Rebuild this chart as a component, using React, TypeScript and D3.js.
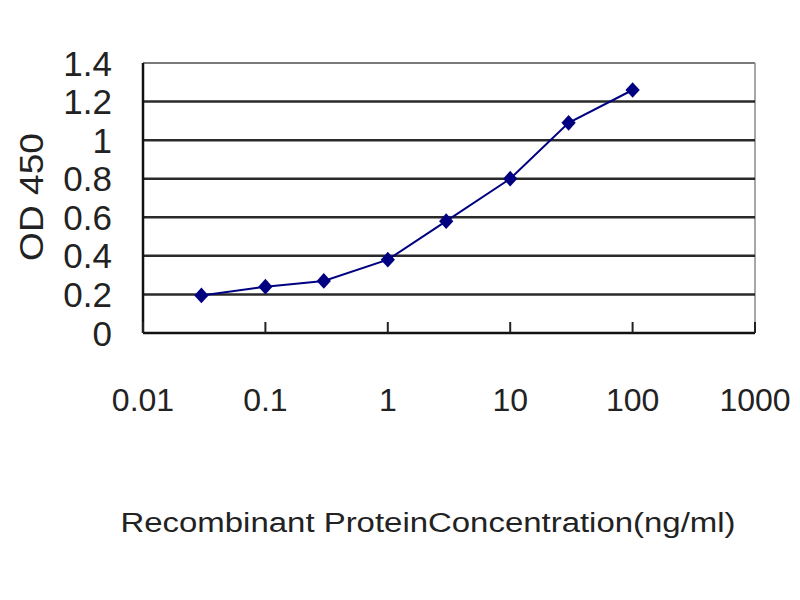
import React from 'react'
import * as d3 from 'd3'

const concentrations = [0.03, 0.1, 0.3, 1, 3, 10, 30, 100]
const odValues = [0.195, 0.24, 0.27, 0.38, 0.58, 0.8, 1.09, 1.26]
const xTicks = [0.01, 0.1, 1, 10, 100, 1000]
const xTickLabels = ['0.01', '0.1', '1', '10', '100', '1000']
const yTicks = [0, 0.2, 0.4, 0.6, 0.8, 1, 1.2, 1.4]
const yTickLabels = ['0', '0.2', '0.4', '0.6', '0.8', '1', '1.2', '1.4']
const xTitle = 'Recombinant ProteinConcentration(ng/ml)'
const yTitle = 'OD 450'

const width = 800
const height = 600
const margin = { top: 63, right: 45, bottom: 267, left: 143 }
const font = '"Liberation Sans", Arial, sans-serif'

export default function App() {
    const innerWidth = width - margin.left - margin.right
    const innerHeight = height - margin.top - margin.bottom

    const x = d3.scaleLog().domain([0.01, 1000]).range([0, innerWidth])
    const y = d3.scaleLinear().domain([0, 1.4]).range([innerHeight, 0])

    const points = concentrations.map((c, i) => ({ c, v: odValues[i] }))

    const line = d3.line<{ c: number; v: number }>()
        .x(d => x(d.c))
        .y(d => y(d.v))

    // Excel-style diamond marker: rotated square, a touch taller than wide
    const diamond = d3.symbol().type(d3.symbolDiamond2).size(130)()

    return (
        <svg width={width} height={height} style={{ position: 'absolute', left: 0, top: 0, background: '#fff' }}>
            <g transform={`translate(${margin.left},${margin.top})`}>
                {/* top and right border */}
                <line x1={0} x2={innerWidth} y1={0} y2={0} stroke="#7a7a7a" strokeWidth={2} />
                <line x1={innerWidth} x2={innerWidth} y1={0} y2={innerHeight} stroke="#8a8a8a" strokeWidth={1.5} />

                {/* gridlines */}
                {yTicks.filter(t => t > 0 && t < 1.4).map(t => (
                    <line key={t} x1={0} x2={innerWidth} y1={y(t)} y2={y(t)} stroke="#2a2a2a" strokeWidth={2.5} />
                ))}

                {/* axes */}
                <line x1={0} x2={0} y1={0} y2={innerHeight} stroke="#111" strokeWidth={2.5} />
                <line x1={0} x2={innerWidth} y1={innerHeight} y2={innerHeight} stroke="#111" strokeWidth={2.5} />
                {xTicks.map(t => (
                    <line key={t} x1={x(t)} x2={x(t)} y1={innerHeight} y2={innerHeight - 11} stroke="#222" strokeWidth={2} />
                ))}

                {/* y tick labels */}
                {yTicks.map((t, i) => (
                    <text key={t} x={-31} y={y(t)} textAnchor="end" dominantBaseline="central"
                        fontFamily={font} fontSize={35} fill="#222">{yTickLabels[i]}</text>
                ))}

                {/* x tick labels */}
                {xTicks.map((t, i) => (
                    <text key={t} x={x(t)} y={337} textAnchor="middle" dominantBaseline="central"
                        fontFamily={font} fontSize={32} fill="#222">{xTickLabels[i]}</text>
                ))}

                {/* series */}
                <path d={line(points) || ''} fill="none" stroke="#000080" strokeWidth={2} />
                {points.map(p => (
                    <path key={p.c} d={diamond || ''} transform={`translate(${x(p.c)},${y(p.v)}) scale(1,1.1)`} fill="#000080" />
                ))}
            </g>

            <text x={428} y={523} textAnchor="middle" dominantBaseline="central" fontFamily={font}
                fontSize={27} fill="#222" textLength={615} lengthAdjust="spacingAndGlyphs">{xTitle}</text>
            <text transform="translate(31,197) rotate(-90)" textAnchor="middle" dominantBaseline="central"
                fontFamily={font} fontSize={33} fill="#222" textLength={128} lengthAdjust="spacingAndGlyphs">{yTitle}</text>
        </svg>
    )
}
